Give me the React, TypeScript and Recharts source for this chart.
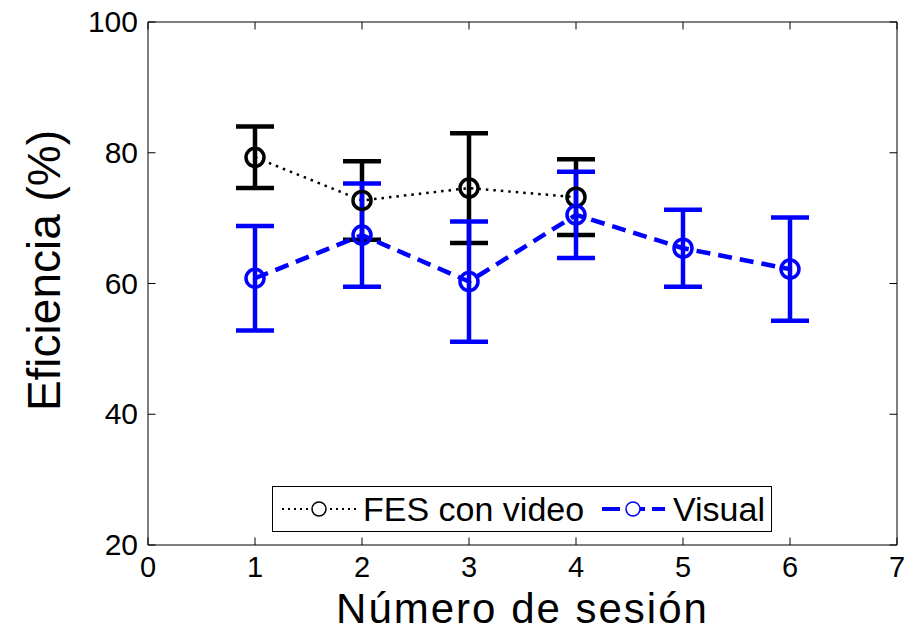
import React from 'react';
import {
  LineChart,
  Line,
  XAxis,
  YAxis,
  ErrorBar,
  Legend,
  Label,
} from 'recharts';

const FONT = '"Liberation Sans", Arial, Helvetica, sans-serif';
const TICK_LEN = 7.5;

// sesiones y valores
const sessionsFes = [1, 2, 3, 4];
const fesMean = [79.3, 72.7, 74.6, 73.2];
const fesErr = [4.7, 6.0, 8.4, 5.8];

const sessionsVisual = [1, 2, 3, 4, 5, 6];
const visualMean = [60.8, 67.4, 60.3, 70.5, 65.4, 62.2];
const visualErr = [8.0, 7.9, 9.2, 6.6, 5.9, 7.9];

const xTicks = [0, 1, 2, 3, 4, 5, 6, 7];
const yTicks = [20, 40, 60, 80, 100];

const seriesNames = ['FES con video', 'Visual'];
const xTitle = 'Número de sesión';
const yTitle = 'Eficiencia (%)';

const fesRows = sessionsFes.map((s, i) => ({ session: s, mean: fesMean[i], err: fesErr[i] }));
const visualRows = sessionsVisual.map((s, i) => ({ session: s, mean: visualMean[i], err: visualErr[i] }));

function BottomTick({ x, y, payload }: any) {
  return (
    <g>
      <line x1={x} y1={y} x2={x} y2={y - TICK_LEN} stroke="#000" strokeWidth={1} />
      <text x={x} y={y + 32} textAnchor="middle" fontSize={29} fontFamily={FONT} fill="#000">
        {payload.value}
      </text>
    </g>
  );
}

function TopTick({ x, y }: any) {
  return <line x1={x} y1={y} x2={x} y2={y + TICK_LEN} stroke="#000" strokeWidth={1} />;
}

function LeftTick({ x, y, payload }: any) {
  return (
    <g>
      <line x1={x} y1={y} x2={x + TICK_LEN} y2={y} stroke="#000" strokeWidth={1} />
      <text x={x - 10} y={y + 10} textAnchor="end" fontSize={30} fontFamily={FONT} fill="#000">
        {payload.value}
      </text>
    </g>
  );
}

function RightTick({ x, y }: any) {
  return <line x1={x} y1={y} x2={x - TICK_LEN} y2={y} stroke="#000" strokeWidth={1} />;
}

function XTitle({ viewBox }: any) {
  return (
    <text
      x={viewBox.x + viewBox.width / 2}
      y={viewBox.y + 78}
      textAnchor="middle"
      fontSize={42}
      letterSpacing={2}
      fontFamily={FONT}
      fill="#000"
    >
      {xTitle}
    </text>
  );
}

function YTitle({ viewBox }: any) {
  const cy = viewBox.y + viewBox.height / 2 - 13;
  return (
    <text
      transform={`translate(60, ${cy}) rotate(-90)`}
      textAnchor="middle"
      fontSize={46}
      fontFamily={FONT}
      fill="#000"
    >
      {yTitle}
    </text>
  );
}

function LegendBox() {
  return (
    <svg width={500} height={46} style={{ display: 'block' }}>
      <rect x={0.5} y={0.5} width={499} height={45} fill="#fff" stroke="#000" strokeWidth={1} />
      <line x1={10} x2={85} y1={23} y2={23} stroke="#000" strokeWidth={2} strokeDasharray="2 4" />
      <circle cx={47} cy={23} r={7} fill="#fff" stroke="#000" strokeWidth={1.5} />
      <text x={91} y={35} fontSize={34} fontFamily={FONT} fill="#000">
        {seriesNames[0]}
      </text>
      <line x1={330} x2={393} y1={23} y2={23} stroke="#0000ff" strokeWidth={4} strokeDasharray="18 7" />
      <circle cx={361} cy={23} r={7} fill="#fff" stroke="#0000ff" strokeWidth={1.5} />
      <text x={401} y={35} fontSize={34} fontFamily={FONT} fill="#000">
        {seriesNames[1]}
      </text>
    </svg>
  );
}

export default function App() {
  return (
    <div style={{ position: 'absolute', left: 0, top: 0, background: '#fff' }}>
      <LineChart width={922} height={632} margin={{ top: 0, right: 0, bottom: 0, left: 0 }}>
        <XAxis
          xAxisId="bottom"
          type="number"
          dataKey="session"
          domain={[0, 7]}
          ticks={xTicks}
          interval={0}
          allowDataOverflow
          height={87}
          tickSize={0}
          tickMargin={0}
          tickLine={false}
          axisLine={{ stroke: '#000', strokeWidth: 1 }}
          tick={<BottomTick />}
        >
          <Label content={<XTitle />} />
        </XAxis>
        <XAxis
          xAxisId="top"
          orientation="top"
          type="number"
          dataKey="session"
          domain={[0, 7]}
          ticks={xTicks}
          interval={0}
          allowDataOverflow
          height={22}
          tickSize={0}
          tickMargin={0}
          tickLine={false}
          axisLine={{ stroke: '#000', strokeWidth: 1 }}
          tick={<TopTick />}
        />
        <YAxis
          yAxisId="left"
          type="number"
          domain={[20, 100]}
          ticks={yTicks}
          interval={0}
          allowDataOverflow
          width={148}
          tickSize={0}
          tickMargin={0}
          tickLine={false}
          axisLine={{ stroke: '#000', strokeWidth: 1 }}
          tick={<LeftTick />}
        >
          <Label content={<YTitle />} />
        </YAxis>
        <YAxis
          yAxisId="right"
          orientation="right"
          type="number"
          domain={[20, 100]}
          ticks={yTicks}
          interval={0}
          allowDataOverflow
          width={25}
          tickSize={0}
          tickMargin={0}
          tickLine={false}
          axisLine={{ stroke: '#000', strokeWidth: 1 }}
          tick={<RightTick />}
        />
        <Line
          xAxisId="bottom"
          yAxisId="left"
          data={fesRows}
          dataKey="mean"
          name={seriesNames[0]}
          stroke="#000"
          strokeWidth={2.5}
          strokeDasharray="2.5 5"
          dot={{ r: 9, stroke: '#000', strokeWidth: 3.5, fill: 'none', strokeDasharray: 'none' }}
          activeDot={false}
          isAnimationActive={false}
        >
          <ErrorBar dataKey="err" direction="y" width={19} strokeWidth={4.5} stroke="#000" isAnimationActive={false} />
        </Line>
        <Line
          xAxisId="bottom"
          yAxisId="left"
          data={visualRows}
          dataKey="mean"
          name={seriesNames[1]}
          stroke="#0000ff"
          strokeWidth={4.5}
          strokeDasharray="14 8"
          dot={{ r: 9, stroke: '#0000ff', strokeWidth: 3.5, fill: 'none', strokeDasharray: 'none' }}
          activeDot={false}
          isAnimationActive={false}
        >
          <ErrorBar dataKey="err" direction="y" width={19} strokeWidth={4.5} stroke="#0000ff" isAnimationActive={false} />
        </Line>
        <Legend
          layout="horizontal"
          verticalAlign="middle"
          align="center"
          wrapperStyle={{ left: 272, top: 486, width: 500, height: 46 }}
          content={<LegendBox />}
        />
      </LineChart>
    </div>
  );
}
